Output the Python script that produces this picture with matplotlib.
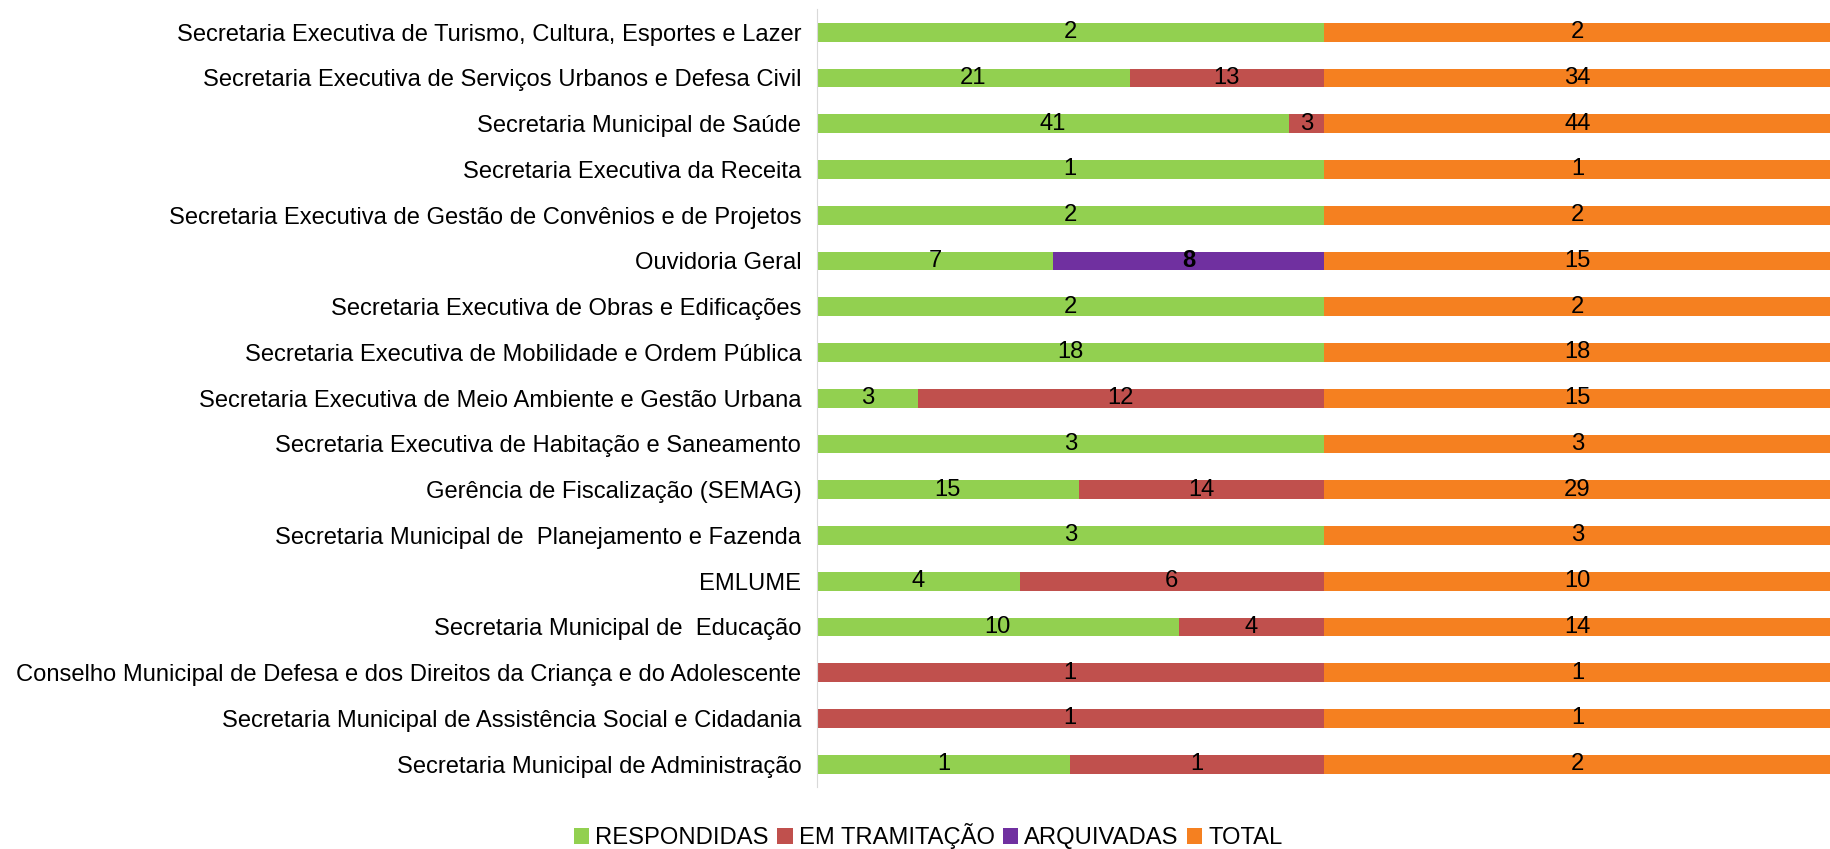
import numpy as np
import matplotlib.pyplot as plt
from matplotlib.patches import Patch

plt.rcParams["font.family"] = ["Liberation Sans", "DejaVu Sans"]

orgaos = [
    "Secretaria Executiva de Turismo, Cultura, Esportes e Lazer",
    "Secretaria Executiva de Serviços Urbanos e Defesa Civil",
    "Secretaria Municipal de Saúde",
    "Secretaria Executiva da Receita",
    "Secretaria Executiva de Gestão de Convênios e de Projetos",
    "Ouvidoria Geral",
    "Secretaria Executiva de Obras e Edificações",
    "Secretaria Executiva de Mobilidade e Ordem Pública",
    "Secretaria Executiva de Meio Ambiente e Gestão Urbana",
    "Secretaria Executiva de Habitação e Saneamento",
    "Gerência de Fiscalização (SEMAG)",
    "Secretaria Municipal de  Planejamento e Fazenda",
    "EMLUME",
    "Secretaria Municipal de  Educação",
    "Conselho Municipal de Defesa e dos Direitos da Criança e do Adolescente",
    "Secretaria Municipal de Assistência Social e Cidadania",
    "Secretaria Municipal de Administração",
]
respondidas = [2, 21, 41, 1, 2, 7, 2, 18, 3, 3, 15, 3, 4, 10, 0, 0, 1]
tramitacao = [0, 13, 3, 0, 0, 0, 0, 0, 12, 0, 14, 0, 6, 4, 1, 1, 1]
arquivadas = [0, 0, 0, 0, 0, 8, 0, 0, 0, 0, 0, 0, 0, 0, 0, 0, 0]
total = [2, 34, 44, 1, 2, 15, 2, 18, 15, 3, 29, 3, 10, 14, 1, 1, 2]

series = [
    ("RESPONDIDAS", respondidas, "#92D050"),
    ("EM TRAMITAÇÃO", tramitacao, "#C0504D"),
    ("ARQUIVADAS", arquivadas, "#7030A0"),
    ("TOTAL", total, "#F58020"),
]

fs = 17.1

fig = plt.figure(figsize=(18.31, 8.49), dpi=100, facecolor="white")
ax = fig.add_axes([0.446, 0.073, 0.554, 0.916])

y = np.arange(len(orgaos))
soma = np.array(respondidas) + np.array(tramitacao) + np.array(arquivadas) + np.array(total)
left = np.zeros(len(orgaos))
for nome, vals, cor in series:
    vals = np.array(vals, dtype=float)
    frac = vals / soma
    ax.barh(y, frac, left=left, height=0.41, color=cor, edgecolor="none")
    for i, v in enumerate(vals):
        if v > 0:
            peso = "bold" if nome == "ARQUIVADAS" else "normal"
            ax.text(left[i] + frac[i] / 2, y[i], f"{int(v)}", ha="center", va="center",
                    fontsize=fs, color="black", fontweight=peso)
    left += frac

ax.set_xlim(0, 1)
ax.set_ylim(len(orgaos) - 0.5, -0.5)
ax.set_xticks([])
ax.set_yticks(y)
ax.set_yticklabels(orgaos, fontsize=fs)
ax.tick_params(axis="y", length=0, pad=11)
for s in ["top", "right", "bottom"]:
    ax.spines[s].set_visible(False)
ax.spines["left"].set_color("#D9D9D9")

handles = [Patch(facecolor=c, edgecolor="none", label=n) for n, _, c in series]
fig.legend(handles=handles, loc="center", bbox_to_anchor=(0.507, 0.015), ncol=4,
           frameon=False, fontsize=fs, handlelength=0.65, handleheight=0.65,
           handletextpad=0.25, columnspacing=0.35)

fig.savefig("out.png", dpi=100, facecolor="white")
